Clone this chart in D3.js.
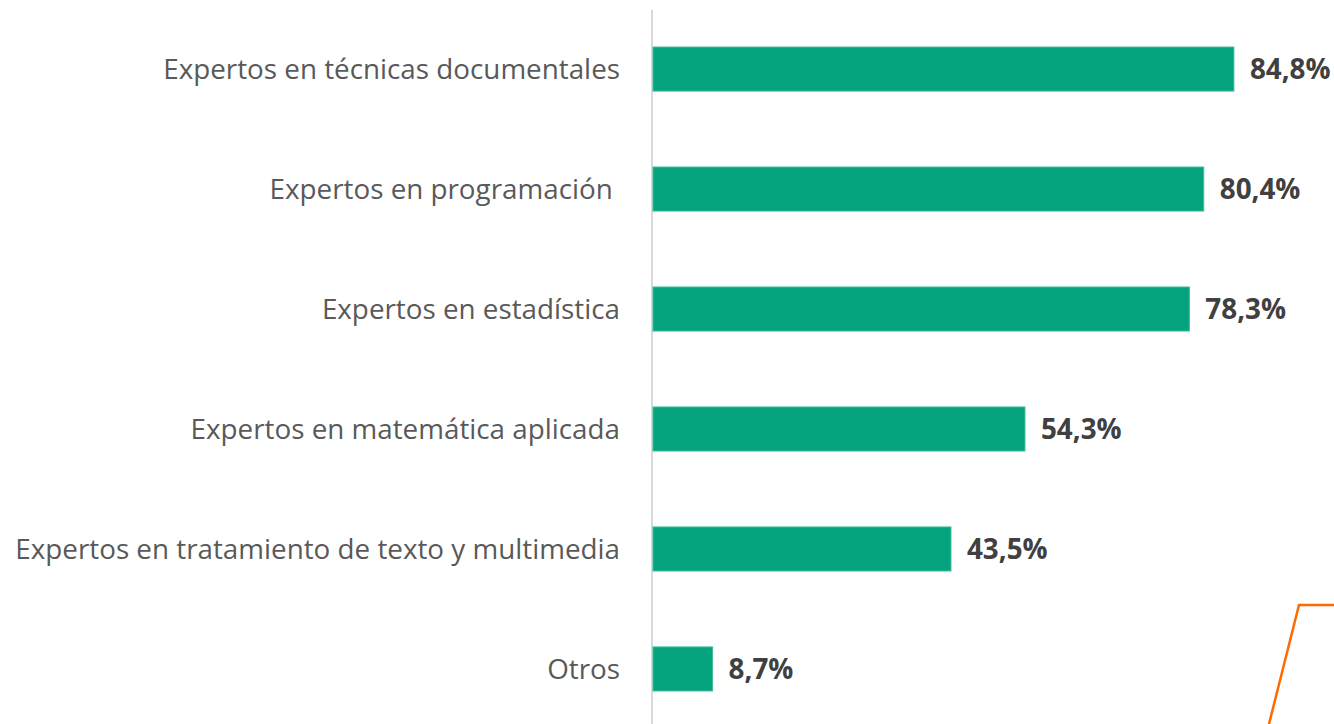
<!DOCTYPE html>
<html>
<head>
    <meta charset="utf-8" />
    <title>Perfiles</title>
    <script src="https://cdn.jsdelivr.net/npm/d3@7"></script>
    <style>
        body { margin: 0; background: #fff; }
        svg text { white-space: pre; }
    </style>
</head>
<body>
    <svg id="chart" width="1334" height="724"></svg>
    <script>
        var categories = [
            'Expertos en técnicas documentales',
            'Expertos en programación ',
            'Expertos en estadística',
            'Expertos en matemática aplicada',
            'Expertos en tratamiento de texto y multimedia',
            'Otros'
        ]
        var values = [84.8, 80.4, 78.3, 54.3, 43.5, 8.7]
        var valueLabels = ['84,8%', '80,4%', '78,3%', '54,3%', '43,5%', '8,7%']

        var svg = d3.select('#chart')
        var x0 = 653

        // 0..100% -> 653..1338 px
        var x = d3.scaleLinear().domain([0, 100]).range([x0, x0 + 685])
        var y = d3.scaleBand().domain(categories).range([9, 729]).paddingInner(0.633).paddingOuter(0.317)

        // eje vertical
        svg.append('line')
            .attr('x1', 652).attr('x2', 652)
            .attr('y1', 10).attr('y2', 724)
            .attr('stroke', '#d9d9d9').attr('stroke-width', 2)

        svg.append('g').selectAll('rect')
            .data(categories)
            .enter()
            .append('rect')
            .attr('x', x(0))
            .attr('y', function (d) { return y(d) })
            .attr('width', function (d, i) { return x(values[i]) - x(0) })
            .attr('height', y.bandwidth())
            .attr('fill', '#04a37e')
            .attr('stroke', '#3fbb9a').attr('stroke-width', 1)

        svg.append('g').selectAll('text')
            .data(categories)
            .enter()
            .append('text')
            .attr('x', 620)
            .attr('y', function (d) { return y(d) + y.bandwidth() / 2 })
            .attr('dy', '0.35em')
            .attr('text-anchor', 'end')
            .attr('font-family', 'Open Sans')
            .attr('font-size', 27.8)
            .attr('fill', '#595959')
            .text(function (d) { return d })

        svg.append('g').selectAll('text')
            .data(categories)
            .enter()
            .append('text')
            .attr('x', function (d, i) { return x(values[i]) + 16 })
            .attr('y', function (d) { return y(d) + y.bandwidth() / 2 })
            .attr('dy', '0.35em')
            .attr('font-family', 'Open Sans')
            .attr('font-weight', 'bold')
            .attr('font-size', 27.8)
            .attr('fill', '#404040')
            .text(function (d, i) { return valueLabels[i] })

        // trazo naranja decorativo (esquina inferior derecha)
        svg.append('path')
            .attr('d', 'M1269,724 L1299,605 L1334,605')
            .attr('fill', 'none')
            .attr('stroke', '#ff6a00').attr('stroke-width', 2.5)
    </script>
</body>
</html>
